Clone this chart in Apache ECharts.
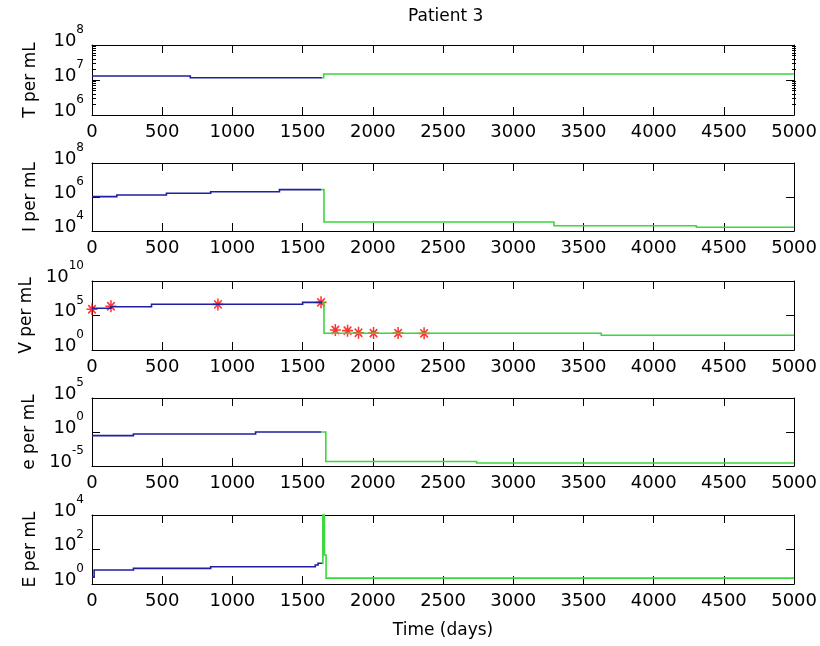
<!DOCTYPE html>
<html><head><meta charset="utf-8">
<script src="https://cdn.jsdelivr.net/npm/echarts@6/dist/echarts.min.js"></script>
<style>html,body{margin:0;padding:0;background:#fff}#c{width:820px;height:646px}</style>
</head><body><div id="c"></div>
<script>
// ---------- data ----------
const titleText = 'Patient 3';
const xName = 'Time (days)';
const panelNames = ['T per mL', 'I per mL', 'V per mL', 'e per mL', 'E per mL'];
const xMin = 0, xMax = 5000, xStep = 500;
const yMins = [1e6, 1e4, 1e0, 1e-5, 1e0];
const yMaxs = [1e8, 1e8, 1e10, 1e5, 1e4];
const yTickVals = [[1e6, 1e7, 1e8], [1e4, 1e6, 1e8], [1e0, 1e5, 1e10], [1e-5, 1e0, 1e5], [1e0, 1e2, 1e4]];
const tMinorTicks = [2e6, 3e6, 4e6, 5e6, 6e6, 7e6, 8e6, 9e6, 2e7, 3e7, 4e7, 5e7, 6e7, 7e7, 8e7, 9e7];

// Piecewise-constant trajectories: value holds from its day until the next day.
// T (blue = before therapy, green = after)
const tBlueDays = [0, 700, 1640];
const tBlueVals = [1.3e7, 1.16e7, 1.16e7];
const tGreenDays = [1640, 1650, 5000];
const tGreenVals = [1.16e7, 1.48e7, 1.48e7];
// I
const iBlueDays = [0, 177, 530, 845, 1335, 1631];
const iBlueVals = [1.05e6, 1.32e6, 1.66e6, 2.04e6, 2.7e6, 2.7e6];
const iGreenDays = [1631, 1652, 3290, 4304, 5000];
const iGreenVals = [2.7e6, 3.4e4, 2.04e4, 1.66e4, 1.66e4];
// V
const vBlueDays = [0, 135, 424, 1500, 1640];
const vBlueVals = [1.1e6, 1.9e6, 4.2e6, 8e6, 8e6];
const vGreenDays = [1640, 1652, 3627, 5000];
const vGreenVals = [8e6, 263, 135, 135];
const vDataDays = [0, 135, 897, 1631, 1733, 1820, 1898, 2005, 2180, 2365];
const vDataVals = [8e5, 2.2e6, 4e6, 8e6, 800, 630, 320, 280, 280, 260];
// e
const eBlueDays = [0, 295, 1165, 1631];
const eBlueVals = [0.29, 0.51, 1.0, 1.0];
const eGreenDays = [1631, 1665, 2739, 5000];
const eGreenVals = [1.0, 4.5e-5, 2.8e-5, 2.8e-5];
// E
const EBlueDays = [0, 15, 295, 845, 1590, 1610, 1638];
const EBlueVals = [2.5, 6.5, 8.1, 10, 12.6, 16, 16];
const EGreenDays = [1638, 1644, 1655, 1667, 5000];
const EGreenVals = [16, 1.5e4, 48, 2.2, 2.2];

// ---------- layout / style ----------
const FONT = 'DejaVu Sans';
const BLUE = '#1f1fa0';
const GREEN = '#3ad83a';
const gridTops = [45, 163, 281, 398, 515];
const gridHeights = [70, 68, 69, 68, 69];
const zip = (d, v) => d.map((x, k) => [x, v[k]]);
// expand change points into a stepped polyline (value holds until next day)
const stepped = (d, v) => {
  const out = [];
  for (let k = 0; k < d.length; k++) {
    out.push([d[k], v[k]]);
    if (k + 1 < d.length) out.push([d[k + 1], v[k]]);
  }
  return out;
};
const lines = [
  [stepped(tBlueDays, tBlueVals), stepped(tGreenDays, tGreenVals)],
  [stepped(iBlueDays, iBlueVals), stepped(iGreenDays, iGreenVals)],
  [stepped(vBlueDays, vBlueVals), stepped(vGreenDays, vGreenVals)],
  [stepped(eBlueDays, eBlueVals), stepped(eGreenDays, eGreenVals)],
  [stepped(EBlueDays, EBlueVals), stepped(EGreenDays, EGreenVals)]
];

const grid = [], xAxis = [], yAxis = [], series = [];
const axLine = {show: true, onZero: false, lineStyle: {color: '#000', width: 1}};
const tickStyle = {color: '#000', width: 1};
const supFormatter = v => '{b|10}{s|' + Math.round(Math.log10(v)) + '}';
const rich = {
  b: {fontSize: 18, lineHeight: 18, fontFamily: FONT, color: '#000', verticalAlign: 'bottom'},
  s: {fontSize: 12, lineHeight: 12, fontFamily: FONT, color: '#000', verticalAlign: 'bottom', padding: [0, 0, 14, 0]}
};

for (let i = 0; i < 5; i++) {
  grid.push({left: 92, right: 24, top: gridTops[i], height: gridHeights[i], show: false});
  xAxis.push({
    type: 'value', gridIndex: i, min: xMin, max: xMax, interval: xStep, position: 'bottom',
    axisLine: axLine,
    axisTick: {show: true, inside: true, length: 8, lineStyle: tickStyle},
    axisLabel: {show: true, fontSize: 18, fontFamily: FONT, color: '#000', margin: 8, formatter: v => String(v)},
    splitLine: {show: false},
    name: i === 4 ? xName : '', nameLocation: 'middle', nameGap: 38,
    nameTextStyle: {fontSize: 17, fontFamily: FONT, color: '#000'}
  });
  xAxis.push({
    type: 'value', gridIndex: i, min: xMin, max: xMax, interval: xStep, position: 'top',
    axisLine: axLine,
    axisTick: {show: true, inside: true, length: 8, lineStyle: tickStyle},
    axisLabel: {show: false}, splitLine: {show: false}
  });
  yAxis.push({
    type: 'log', logBase: 10, gridIndex: i, min: yMins[i], max: yMaxs[i], position: 'left',
    axisLine: axLine,
    axisTick: {show: true, inside: true, length: 8, lineStyle: tickStyle, customValues: yTickVals[i]},
    axisLabel: {show: true, customValues: yTickVals[i], formatter: supFormatter, rich: rich, padding: [0, 0, 8, 0], margin: 8},
    splitLine: {show: false}, minorTick: {show: false},
    name: panelNames[i], nameLocation: 'middle', nameGap: 53,
    nameTextStyle: {fontSize: 17, fontFamily: FONT, color: '#000'}
  });
  yAxis.push({
    type: 'log', logBase: 10, gridIndex: i, min: yMins[i], max: yMaxs[i], position: 'right',
    axisLine: axLine,
    axisTick: {show: true, inside: true, length: 8, lineStyle: tickStyle, customValues: yTickVals[i]},
    axisLabel: {show: false}, splitLine: {show: false}
  });
}
// overlay grid on the first panel carrying the minor log ticks (left and right)
grid.push({left: 92, right: 24, top: gridTops[0], height: gridHeights[0], show: false});
xAxis.push({type: 'value', gridIndex: 5, min: xMin, max: xMax, show: false});
['left', 'right'].forEach(pos => {
  yAxis.push({
    type: 'log', logBase: 10, gridIndex: 5, min: yMins[0], max: yMaxs[0], position: pos,
    axisLine: {show: false},
    axisTick: {show: true, inside: true, length: 4, lineStyle: tickStyle, customValues: tMinorTicks},
    axisLabel: {show: false}, splitLine: {show: false}
  });
});

// measured data points (red asterisks) on V panel
series.push({
  type: 'scatter', xAxisIndex: 4, yAxisIndex: 4,
  data: zip(vDataDays, vDataVals),
  symbol: 'path://M5,0L5,10M0,5L10,5M1.6,1.6L8.4,8.4M1.6,8.4L8.4,1.6',
  symbolSize: [11, 12],
  itemStyle: {color: 'rgba(0,0,0,0)', borderColor: '#ff0000', borderWidth: 1.6},
  z: 2
});
for (let i = 0; i < 5; i++) {
  [BLUE, GREEN].forEach((col, j) => {
    series.push({
      type: 'lines', coordinateSystem: 'cartesian2d', xAxisIndex: 2 * i, yAxisIndex: 2 * i,
      polyline: true, clip: true, silent: true,
      data: [{coords: lines[i][j]}],
      lineStyle: {color: col, width: 1.6, opacity: 1, curveness: 0}, z: 3
    });
  });
}

const chart = echarts.init(document.getElementById('c'), null, {renderer: 'canvas'});
chart.setOption({
  animation: false,
  backgroundColor: '#fff',
  title: {text: titleText, left: 408, top: 8, padding: 0,
          textStyle: {fontSize: 17, fontWeight: 'normal', fontFamily: FONT, color: '#000'}},
  grid, xAxis, yAxis, series
});
</script></body></html>
